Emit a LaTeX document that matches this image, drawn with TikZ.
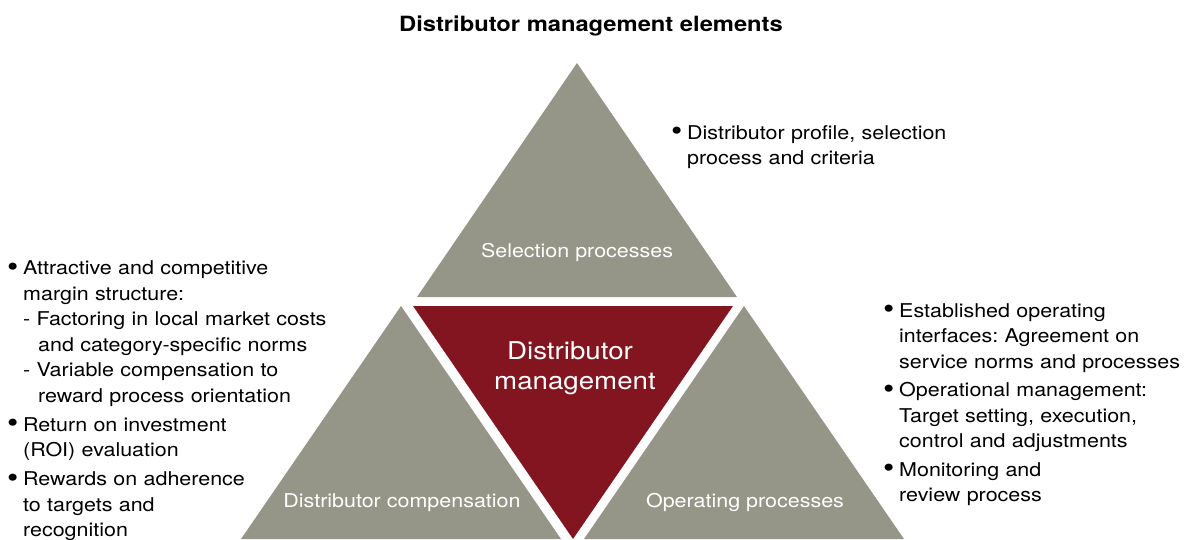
\documentclass[tikz,border=0pt]{standalone}
\usepackage{fontspec}
\setmainfont{TeX Gyre Heros}[FakeStretch=1.13]
\definecolor{tgray}{HTML}{969688}
\definecolor{tred}{HTML}{831520}
\newcommand\mybul{\makebox[16pt][l]{\raisebox{-1.6pt}{\scalebox{1.5}{•}}}}
\newcommand\myind{\hspace*{16pt}}
\newcommand\mysubind{\hspace*{31pt}}
\frenchspacing
\tikzset{
  tri/.style={fill=tgray},
  ctri/.style={fill=tred},
  lab/.style={text=white, font=\fontsize{19}{23}\selectfont, anchor=base, inner sep=0pt},
  biglab/.style={text=white, font=\fontsize{24.5}{30}\selectfont, anchor=base, inner sep=0pt},
  bodytext/.style={font=\fontsize{19}{25.5}\selectfont, align=left, anchor=base west, inner sep=0pt},
}
\begin{document}
\begin{tikzpicture}[x=1pt,y=-1pt]
\useasboundingbox (0,0) rectangle (1184,539);
% triangles
\fill[tri]  (577,63) -- (737,297) -- (417,297) -- cycle;
\fill[ctri] (413,306) -- (733,306) -- (573,539) -- cycle;
\fill[tri]  (401,306) -- (561,539) -- (241,539) -- cycle;
\fill[tri]  (744,306) -- (904,539) -- (584,539) -- cycle;
% title
\node[font=\fontsize{21}{25}\bfseries\selectfont, anchor=base, inner sep=0pt] (title) at (591,31) {Distributor management elements};
% labels in triangles
\node[lab] (sel) at (577,257) {Selection processes};
\node[biglab] (dm1) at (570,359) {Distributor};
\node[biglab] (dm2) at (575,389) {management};
\node[lab] (comp) at (402,507) {Distributor compensation};
\node[lab] (oper) at (745,507) {Operating processes};
% text lists
\node[bodytext, text width=300pt] (toplist) at (671,139) {%
\mybul Distributor profile, selection\\
\myind process and criteria};
\node[bodytext, text width=340pt] (leftlist) at (7,274.5) {%
\mybul Attractive and competitive\\
\myind margin structure:\\
\myind - Factoring in local market costs\\
\mysubind and category-specific norms\\
\myind - Variable compensation to\\
\mysubind reward process orientation\\[3.5pt]
\mybul Return on investment\\
\myind (ROI) evaluation\\[3.5pt]
\mybul Rewards on adherence\\
\myind to targets and\\
\myind recognition};
\node[bodytext, text width=300pt] (rightlist) at (883,317) {%
\mybul Established operating\\
\myind interfaces: Agreement on\\
\myind service norms and processes\\[3pt]
\mybul Operational management:\\
\myind Target setting, execution,\\
\myind control and adjustments\\[3pt]
\mybul Monitoring and\\
\myind review process};
\end{tikzpicture}
\end{document}
